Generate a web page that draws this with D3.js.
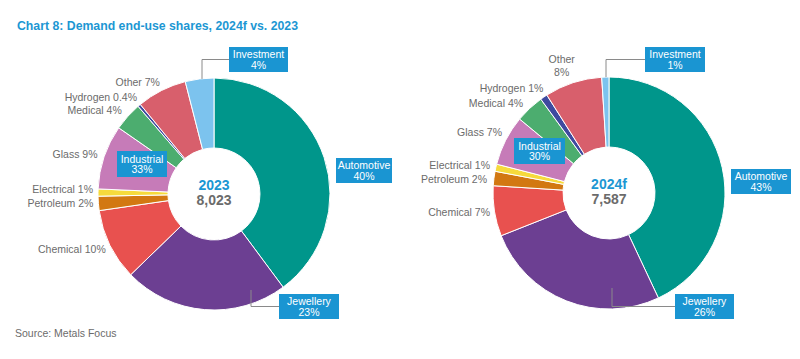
<!DOCTYPE html>
<html><head><meta charset="utf-8">
<script src="https://cdn.jsdelivr.net/npm/d3@7"></script>
<style>body{margin:0;background:#fff} svg{display:block} text{font-family:"Liberation Sans",Arial,Helvetica,sans-serif}</style>
</head><body><svg id="c" width="800" height="359"></svg>
<script>
// ---- data ----
const categories = ["Automotive","Jewellery","Chemical","Petroleum","Electrical","Glass","Medical","Hydrogen","Other","Investment"];
const values2023 = [40,23,10,2,1,9,4,0.4,7,4];
const values2024f = [43,26,7,2,1,7,4,1,8,1];
const years = ["2023","2024f"];
const totals = ["8,023","7,587"];
const industrialShares = ["33%","30%"];
const labels2023 = ["40%","23%","10%","2%","1%","9%","4%","0.4%","7%","4%"];
const labels2024f = ["43%","26%","7%","2%","1%","7%","4%","1%","8%","1%"];
const colors = ["#00968b","#6c3f92","#e8514f","#d27812","#f6da3c","#c67bb8","#4cad6f","#3e4a9f","#d85f6c","#7cc3ee"];

// ---- layout (positions/styles, not data) ----
const charts = [
  {values: values2023, labels: labels2023, year: years[0], total: totals[0], ind: industrialShares[0],
   cx: 214, cy: 194, R: 116, r: 46, labR: 124,
   nudges: {2:[3,1],3:[3,-1],4:[3,-3.5],5:[1,0],6:[0,-1],7:[3,-2],8:[2,-1]},
   twoLine: {},
   boxes: [
     {i:9, x:15, y:-147, w:59, h:25, leader:"inv", lx:-12},
     {i:0, x:122, y:-36, w:56, h:25},
     {i:1, x:65, y:100, w:60, h:25, leader:"jew", lx:37, ly:96},
     {i:"ind", x:-97, y:-43, w:50, h:26}
   ]},
  {values: values2024f, labels: labels2024f, year: years[1], total: totals[1], ind: industrialShares[1],
   cx: 609, cy: 193, R: 116, r: 46, labR: 124,
   nudges: {2:[3.5,0],3:[1,1.5],4:[2,-1],5:[3.5,-4],6:[-1,1],7:[4,-2],8:[-9,-9.5]},
   twoLine: {8:true},
   boxes: [
     {i:9, x:36, y:-146, w:60, h:25, leader:"inv", lx:-3},
     {i:0, x:122, y:-24, w:60, h:25},
     {i:1, x:66, y:101, w:59, h:25, leader:"jew", lx:3, ly:95},
     {i:"ind", x:-95, y:-55, w:51, h:26}
   ]}
];

const svg = d3.select("#c");
const blue = "#1a95d2", grey = "#6b6b6b";

svg.append("text").attr("x",17).attr("y",29.5)
  .attr("font-size",13).attr("font-weight","bold").attr("fill","#1c97d3")
  .attr("textLength",281).attr("lengthAdjust","spacingAndGlyphs")
  .text("Chart 8: Demand end-use shares, 2024f vs. 2023");

svg.append("text").attr("x",15).attr("y",336.5)
  .attr("font-size",10.5).attr("fill","#6b6b6b")
  .text("Source: Metals Focus");

const pie = d3.pie().sort(null).value(d=>d);

charts.forEach(c=>{
  const g = svg.append("g").attr("transform",`translate(${c.cx},${c.cy})`);
  const arcs = pie(c.values);
  const arc = d3.arc().innerRadius(c.r).outerRadius(c.R);
  g.selectAll("path").data(arcs).join("path")
    .attr("d",arc).attr("fill",(d,i)=>colors[i])
    .attr("stroke","#fff").attr("stroke-width",1);

  // plain labels
  arcs.forEach((a,i)=>{
    if (i===0||i===1||i===9) return;
    const m=(a.startAngle+a.endAngle)/2;
    const n=c.nudges[i]||[0,0];
    const x=Math.sin(m)*c.labR+n[0], y=-Math.cos(m)*c.labR+n[1];
    if (c.twoLine[i]) {
      const t=g.append("text").attr("font-size",10.5).attr("fill",grey).attr("text-anchor","middle");
      t.append("tspan").attr("x",x).attr("y",y-6.5).attr("dy","0.35em").text(categories[i]);
      t.append("tspan").attr("x",x).attr("y",y+6.5).attr("dy","0.35em").text(c.labels[i]);
    } else {
      g.append("text").attr("x",x).attr("y",y).attr("dy","0.35em")
        .attr("font-size",10.5).attr("fill",grey).attr("text-anchor","end")
        .text(categories[i]+" "+c.labels[i]);
    }
  });

  // callout boxes
  c.boxes.forEach(b=>{
    const name = b.i==="ind" ? "Industrial" : categories[b.i];
    const pct = b.i==="ind" ? c.ind : c.labels[b.i];
    const midY=b.y+b.h/2;
    if (b.leader==="inv") {
      const a=arcs[b.i], m=(a.startAngle+a.endAngle)/2;
      const sy=-Math.cos(m)*c.R;
      g.append("path").attr("d",`M${b.lx},${sy}V${midY}H${b.x}`)
        .attr("fill","none").attr("stroke","#8a8a8a").attr("stroke-width",1);
    }
    if (b.leader==="jew") {
      g.append("path").attr("d",`M${b.lx},${b.ly}V${midY}H${b.x}`)
        .attr("fill","none").attr("stroke","#8a8a8a").attr("stroke-width",1);
    }
    g.append("rect").attr("x",b.x).attr("y",b.y).attr("width",b.w).attr("height",b.h).attr("fill",blue);
    const t=g.append("text").attr("font-size",10.5).attr("fill","#fff").attr("text-anchor","middle");
    t.append("tspan").attr("x",b.x+b.w/2).attr("y",midY-5).attr("dy","0.35em").text(name);
    t.append("tspan").attr("x",b.x+b.w/2).attr("y",midY+5.5).attr("dy","0.35em").text(pct);
  });

  g.append("text").attr("x",0).attr("y",-9).attr("dy","0.35em").attr("text-anchor","middle")
    .attr("font-size",14).attr("font-weight","bold").attr("fill","#1c97d3").text(c.year);
  g.append("text").attr("x",0).attr("y",6.5).attr("dy","0.35em").attr("text-anchor","middle")
    .attr("font-size",14).attr("font-weight","bold").attr("fill",grey).text(c.total);
});
</script></body></html>
